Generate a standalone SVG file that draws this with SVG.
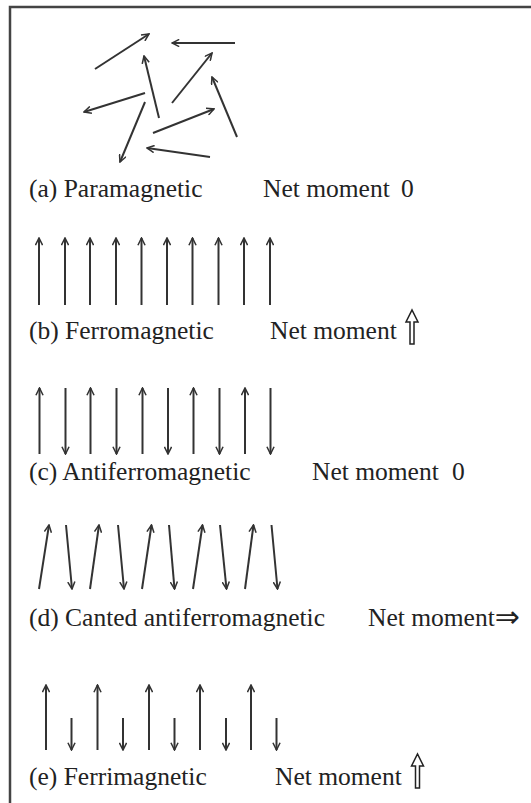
<svg xmlns="http://www.w3.org/2000/svg" width="531" height="803" viewBox="0 0 531 803">
<style>
.t{font-family:"Liberation Serif","Times New Roman",serif;font-size:25.5px;fill:#222}
.s{font-family:"DejaVu Sans",sans-serif;fill:#222}
.a line{stroke:#333;stroke-width:2;marker-end:url(#ah)}
.frame{stroke:#444;stroke-width:2.5;fill:none}
.big{fill:none;stroke:#222;stroke-width:1.5;stroke-linejoin:miter}
</style>
<defs>
<marker id="ah" viewBox="0 0 10 10" refX="9" refY="5" markerWidth="8.5" markerHeight="8.5" orient="auto" markerUnits="userSpaceOnUse">
<path d="M0.5,0.8 L9,5 L0.5,9.2" fill="none" stroke="#333" stroke-width="1.8"/>
</marker>
</defs>
<rect width="531" height="803" fill="#fff"/>
<path class="frame" d="M10,803 V7 H531"/>
<g id="connectors" class="a">
<g id="para">
<line x1="95" y1="69" x2="149" y2="34"/>
<line x1="235" y1="43" x2="172" y2="43"/>
<line x1="159" y1="118" x2="144" y2="56"/>
<line x1="172" y1="103" x2="212" y2="53"/>
<line x1="145" y1="93" x2="84" y2="112"/>
<line x1="145" y1="102" x2="120" y2="162"/>
<line x1="153" y1="133" x2="214" y2="109"/>
<line x1="237" y1="137" x2="212" y2="77"/>
<line x1="210" y1="157" x2="147" y2="148"/>
</g>
<g id="ferro">
<line x1="39" y1="305" x2="39" y2="238"/>
<line x1="65" y1="305" x2="65" y2="238"/>
<line x1="90" y1="305" x2="90" y2="238"/>
<line x1="116" y1="305" x2="116" y2="238"/>
<line x1="141.5" y1="305" x2="141.5" y2="238"/>
<line x1="167" y1="305" x2="167" y2="238"/>
<line x1="192.5" y1="305" x2="192.5" y2="238"/>
<line x1="218.5" y1="305" x2="218.5" y2="238"/>
<line x1="244" y1="305" x2="244" y2="238"/>
<line x1="270" y1="305" x2="270" y2="238"/>
</g>
<g id="antiferro">
<line x1="39.5" y1="454" x2="39.5" y2="388"/>
<line x1="65.5" y1="388" x2="65.5" y2="454"/>
<line x1="90.5" y1="454" x2="90.5" y2="388"/>
<line x1="116.5" y1="388" x2="116.5" y2="454"/>
<line x1="142.5" y1="454" x2="142.5" y2="388"/>
<line x1="168" y1="388" x2="168" y2="454"/>
<line x1="193.5" y1="454" x2="193.5" y2="388"/>
<line x1="219.5" y1="388" x2="219.5" y2="454"/>
<line x1="245" y1="454" x2="245" y2="388"/>
<line x1="270.5" y1="388" x2="270.5" y2="454"/>
</g>
<g id="canted">
<line x1="39" y1="589" x2="49" y2="525"/>
<line x1="66" y1="525" x2="72" y2="589"/>
<line x1="90" y1="589" x2="99" y2="525"/>
<line x1="118" y1="525" x2="124" y2="589"/>
<line x1="142" y1="589" x2="151.5" y2="525"/>
<line x1="169" y1="525" x2="174.5" y2="589"/>
<line x1="193" y1="589" x2="202.5" y2="525"/>
<line x1="220" y1="525" x2="226.5" y2="589"/>
<line x1="245" y1="589" x2="253.5" y2="525"/>
<line x1="271.5" y1="525" x2="277.5" y2="589"/>
</g>
<g id="ferri">
<line x1="46" y1="750" x2="46" y2="685"/>
<line x1="71.5" y1="718" x2="71.5" y2="750"/>
<line x1="97.5" y1="750" x2="97.5" y2="685"/>
<line x1="123" y1="718" x2="123" y2="750"/>
<line x1="149" y1="750" x2="149" y2="685"/>
<line x1="174.5" y1="718" x2="174.5" y2="750"/>
<line x1="200" y1="750" x2="200" y2="685"/>
<line x1="226" y1="718" x2="226" y2="750"/>
<line x1="251" y1="750" x2="251" y2="685"/>
<line x1="276.5" y1="718" x2="276.5" y2="750"/>
</g>
</g>
<g id="label-a">
<text class="t" x="29" y="197">(a) Paramagnetic</text>
<text class="t" x="263" y="197">Net moment</text>
<text class="t" x="401" y="197">0</text>
</g>
<g id="label-b">
<text class="t" x="29" y="339">(b) Ferromagnetic</text>
<text class="t" x="270" y="339">Net moment</text>
<path class="big" d="M410,344 V322 H406 L412,310 L418,322 H414 V344 Z"/>
</g>
<g id="label-c">
<text class="t" x="29" y="480">(c) Antiferromagnetic</text>
<text class="t" x="312" y="480">Net moment</text>
<text class="t" x="452" y="480">0</text>
</g>
<g id="label-d">
<text class="t" x="29" y="626">(d) Canted antiferromagnetic</text>
<text class="t" x="368" y="626">Net moment<tspan class="s" font-size="30" dy="1">⇒</tspan></text>
</g>
<g id="label-e">
<text class="t" x="29" y="785">(e) Ferrimagnetic</text>
<text class="t" x="275" y="785">Net moment</text>
<path class="big" d="M415.5,788 V766 H411.5 L417.5,754 L423.5,766 H419.5 V788 Z"/>
</g>
</svg>
